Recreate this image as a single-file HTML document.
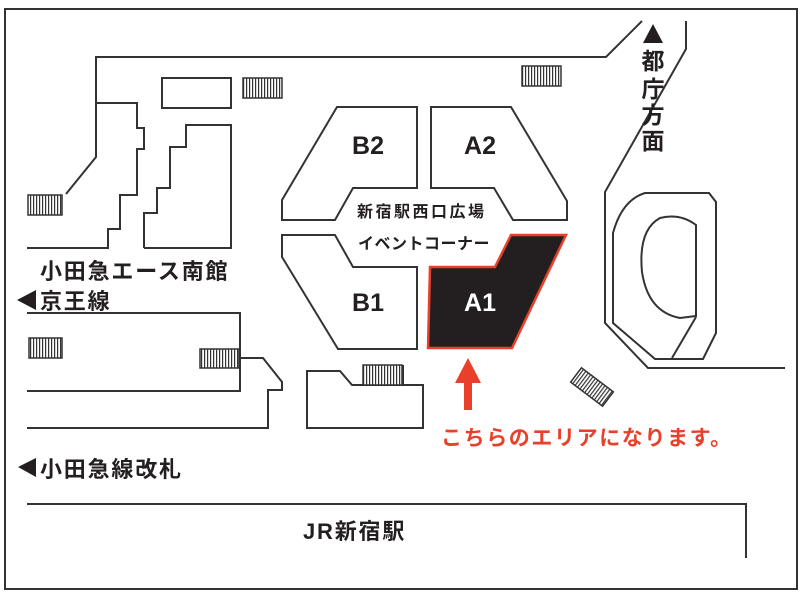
<!DOCTYPE html>
<html><head><meta charset="utf-8"><style>
html,body{margin:0;padding:0;background:#fff;}
svg{display:block;}
text{font-family:"Liberation Sans","Noto Sans CJK JP",sans-serif;}
</style></head><body>
<svg width="800" height="594" viewBox="0 0 800 594" xmlns="http://www.w3.org/2000/svg">
<defs>
<pattern id="st" width="3" height="10" patternUnits="userSpaceOnUse">
<rect width="3" height="10" fill="#fff"/><rect width="1.2" height="10" fill="#333"/>
</pattern>
</defs>
<g fill="none" stroke="#333" stroke-width="2">
<rect x="5" y="9" width="792" height="580"/>
<polyline points="27,248 108,248 108,229 120,229 120,195 137,195 137,149 144,149 144,128 137,128 137,103 96,103"/>
<polyline points="66,194 96,157 96,57 606,57 642,21"/>
<rect x="162" y="78" width="69" height="30"/>
<polyline points="144,248 144,213 157,213 157,188 170,188 170,147 186,147 186,125 231,125 231,248 144,248"/>
<polyline points="686,21 686,49 605,192 605,323 648,368 785,368"/>
<path d="M645,193 L709,193 L716,202 L716,333 L703,359 L655,359 L613,323 L613,233 Q622,200 645,193 Z"/>
<path d="M696,225 Q680,213 660,218 Q638,230 642,272 Q648,312 680,318 L696,316 Z"/>
<line x1="672" y1="358" x2="696" y2="317"/>
<polygon points="282,220 282,200 337,107 417,107 417,188 353,188 335,220"/>
<polygon points="431,107 511,107 567,201 567,220 513,220 494,188 431,188"/>
<polygon points="282,235 335,235 353,267 417,267 417,349 338,349 282,257"/>
<polyline points="27,313 240,313 240,391 27,391"/>
<polyline points="240,358 263,358 282,382 282,390 268,390 268,428 27,428"/>
<polyline points="403,365 403,385 352,385 340,371 307,371 307,428 423,428 423,385 403,385"/>
<polyline points="27,504 746,504 746,558"/>
</g>
<g stroke="#333" stroke-width="1.5" fill="url(#st)">
<rect x="28" y="195" width="34" height="20"/>
<rect x="243" y="78" width="39" height="20"/>
<rect x="522" y="66" width="39" height="20"/>
<rect x="29" y="338" width="33" height="20"/>
<rect x="200" y="349" width="39" height="19"/>
<rect x="363" y="365" width="39" height="20"/>
<rect x="-20" y="-9" width="40" height="18" transform="translate(592,387) rotate(37)"/>
</g>
<polygon points="430,267 495,267 511,235 566,235 512,348 428,348" fill="#231f20" stroke="#e8402a" stroke-width="2.5"/>
<g font-size="25" font-weight="bold" fill="#231f20" text-anchor="middle">
<text x="368" y="154">B2</text>
<text x="480" y="154">A2</text>
<text x="368" y="311">B1</text>
<text x="480" y="311" fill="#fff">A1</text>
</g>
<g font-size="16" font-weight="bold" fill="#231f20">
<text x="357" y="217" letter-spacing="2.5">新宿駅西口広場</text>
<text x="358" y="249" letter-spacing="0.5">イベントコーナー</text>
</g>
<g font-size="22" font-weight="bold" fill="#231f20" letter-spacing="1.8">
<text x="40" y="279">小田急エース南館</text>
<text x="40" y="309">京王線</text>
<text x="40" y="477">小田急線改札</text>
<text x="303" y="539">JR新宿駅</text>
</g>
<polygon points="17,300 36,290 36,310" fill="#231f20"/>
<polygon points="18,467 36,458 36,477" fill="#231f20"/>
<polygon points="643,43 663,43 653,24" fill="#231f20"/>
<g font-size="23" font-weight="bold" fill="#231f20" text-anchor="middle">
<text x="653" y="69">都</text>
<text x="653" y="97">庁</text>
<text x="653" y="123">方</text>
<text x="653" y="149">面</text>
</g>
<rect x="464" y="380" width="8" height="30" fill="#e8402a"/>
<polygon points="455,383 481,383 468,358" fill="#e8402a"/>
<text x="441" y="445" font-size="21" fill="#e8402a" font-weight="bold" letter-spacing="1.6">こちらのエリアになります。</text>
</svg>
</body></html>
